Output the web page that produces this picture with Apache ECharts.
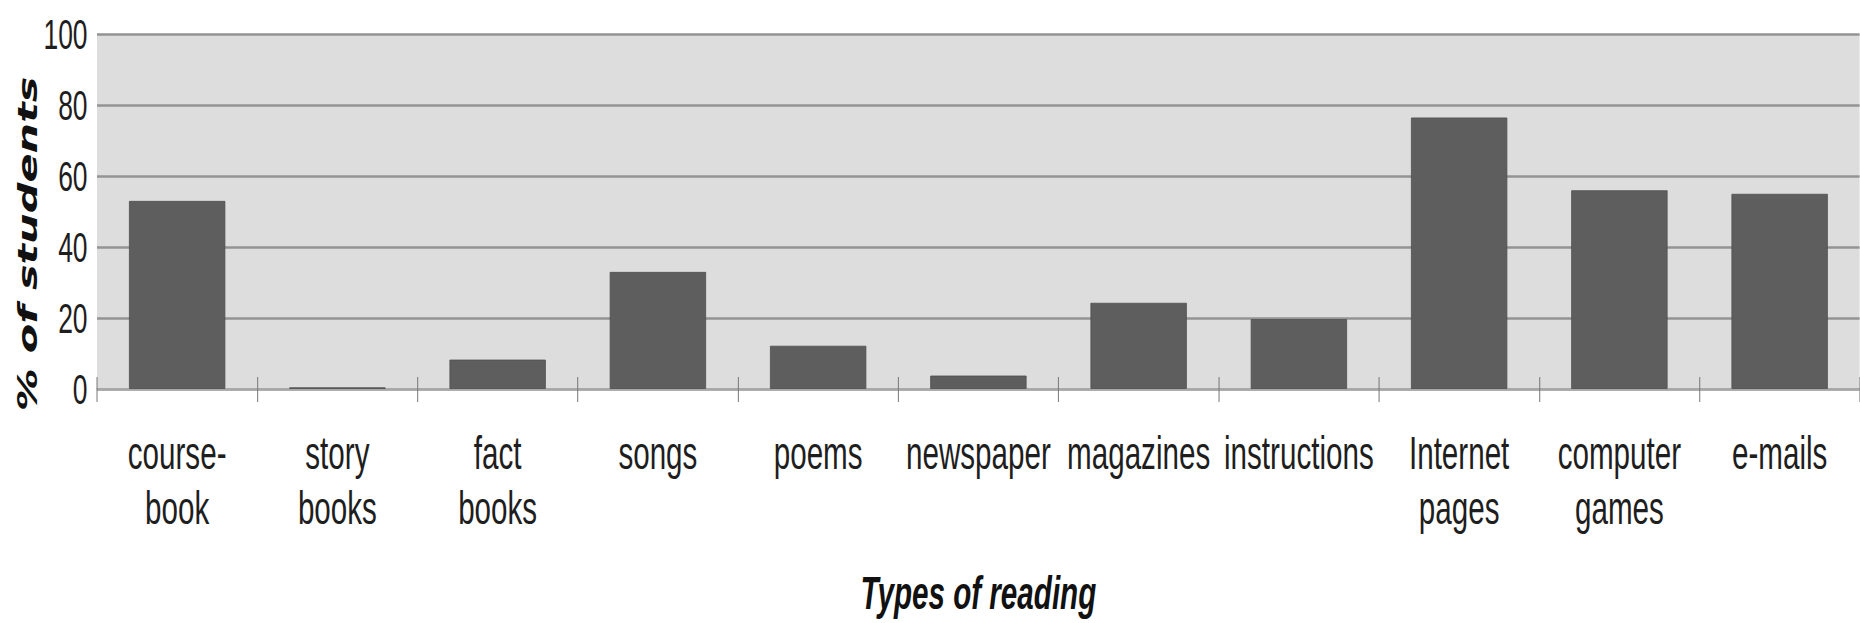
<!DOCTYPE html>
<html>
<head>
<meta charset="utf-8">
<script src="https://cdn.jsdelivr.net/npm/echarts@6/dist/echarts.min.js"></script>
<style>
  html, body { margin: 0; padding: 0; background: #ffffff; overflow: hidden; }
  #wrap { width: 1860px; height: 623px; overflow: hidden; position: relative; }
  #chart { position: absolute; left: 0; top: 0; height: 623px; transform-origin: 0 0; }
</style>
</head>
<body>
<div id="wrap"><div id="chart"></div></div>
<script>
// Reading types and the share of students reading each
const categories = ['course-\nbook', 'story\nbooks', 'fact\nbooks', 'songs', 'poems', 'newspaper',
                    'magazines', 'instructions', 'Internet\npages', 'computer\ngames', 'e-mails'];
const percentStudents = [53, 0.5, 8.3, 33, 12.2, 3.8, 24.3, 19.7, 76.5, 56, 55];
const yTicks = [0, 20, 40, 60, 80, 100];

// The chart is laid out wide and squeezed horizontally for its narrow lettering
const SQUEEZE = 0.63;
const W = Math.round(1860 / SQUEEZE);
const el = document.getElementById('chart');
el.style.width = W + 'px';
el.style.transform = 'scaleX(' + SQUEEZE + ')';

const chart = echarts.init(el, null, { renderer: 'svg' });
const labelFont = '"Liberation Sans", Arial, sans-serif';

chart.setOption({
  animation: false,
  backgroundColor: '#ffffff',
  grid: {
    left: Math.round(97 / SQUEEZE), right: 0, top: 34, bottom: 234,
    show: true, backgroundColor: '#dddddd', borderWidth: 0
  },
  xAxis: [{
    type: 'category',
    data: categories,
    boundaryGap: true,
    axisLine: { show: true, lineStyle: { color: '#a8a8a8', width: 2 } },
    axisTick: { show: true, length: 13, interval: 0, lineStyle: { color: '#777777', width: 1.6 } },
    axisLabel: {
      interval: 0, margin: 36, color: '#1e1e1e',
      fontFamily: labelFont, fontSize: 47, lineHeight: 55
    },
    name: 'Types of reading',
    nameLocation: 'middle',
    nameGap: 180,
    nameTextStyle: {
      fontFamily: labelFont, fontSize: 47, fontWeight: 'bold', fontStyle: 'italic', color: '#111111'
    }
  }, {
    type: 'category',
    data: categories,
    position: 'bottom',
    axisLine: { show: false },
    axisTick: { show: true, inside: true, length: 12, interval: 0, lineStyle: { color: '#777777', width: 1.6 } },
    axisLabel: { show: false }
  }],
  yAxis: {
    type: 'value',
    min: yTicks[0], max: yTicks[yTicks.length - 1], interval: 20,
    axisLine: { show: false },
    axisTick: { show: false },
    axisLabel: {
      margin: 15, color: '#1e1e1e', fontFamily: labelFont, fontSize: 42
    },
    splitLine: { show: true, lineStyle: { color: '#939393', width: 2.6 } }
  },
  graphic: [{
    type: 'text',
    x: Math.round(27 / SQUEEZE),
    y: 244,
    rotation: Math.PI / 2,
    style: {
      text: '% of students',
      font: 'italic bold 43px "DejaVu Sans", Verdana, sans-serif',
      fill: '#111111',
      align: 'center',
      verticalAlign: 'middle'
    }
  }],
  series: [{
    type: 'bar',
    data: percentStudents,
    barWidth: '60%',
    itemStyle: { color: '#5e5e5e', borderColor: '#4f4f4f', borderWidth: 1 }
  }]
});
</script>
</body>
</html>
